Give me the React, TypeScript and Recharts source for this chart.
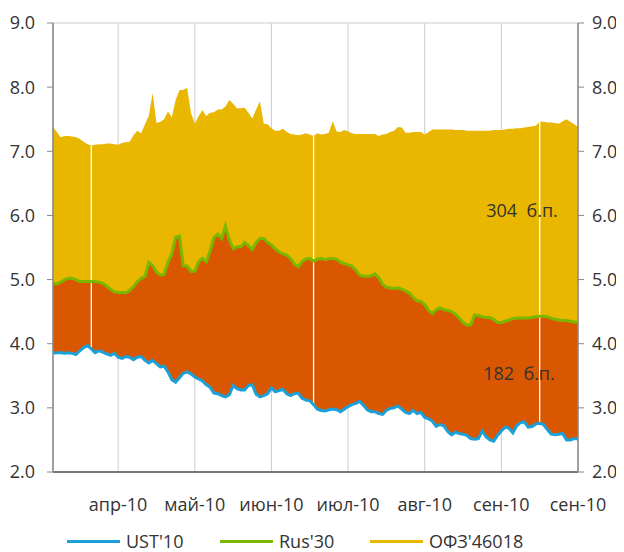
import React from "react";
import {
  ComposedChart,
  Area,
  Line,
  XAxis,
  YAxis,
  CartesianGrid,
  Legend,
  ReferenceLine,
  ReferenceDot,
} from "recharts";

// UST'10 yield, %
const ust = [
  3.85, 3.86, 3.86, 3.85, 3.86, 3.85, 3.83, 3.89, 3.94, 3.97,
  3.92, 3.86, 3.89, 3.87, 3.84, 3.82, 3.85, 3.79, 3.77, 3.80,
  3.79, 3.75, 3.79, 3.80, 3.74, 3.70, 3.74, 3.69, 3.64, 3.65,
  3.56, 3.44, 3.40, 3.47, 3.54, 3.56, 3.53, 3.48, 3.45, 3.42,
  3.36, 3.32, 3.23, 3.22, 3.19, 3.17, 3.20, 3.35, 3.30, 3.28,
  3.28, 3.35, 3.36, 3.21, 3.17, 3.19, 3.22, 3.31, 3.25, 3.27,
  3.29, 3.22, 3.19, 3.22, 3.23, 3.15, 3.12, 3.11, 3.05, 2.98,
  2.96, 2.95, 2.97, 2.98, 2.97, 2.94, 2.98, 3.02, 3.05, 3.07,
  3.10, 3.04, 2.97, 2.94, 2.94, 2.91, 2.90, 2.96, 2.99, 3.00,
  3.03, 2.98, 2.93, 2.91, 2.96, 2.91, 2.93, 2.85, 2.83, 2.79,
  2.71, 2.74, 2.72, 2.63, 2.58, 2.62, 2.60, 2.59, 2.57, 2.52,
  2.51, 2.52, 2.64, 2.55, 2.50, 2.48, 2.57, 2.64, 2.70, 2.68,
  2.61, 2.72, 2.77, 2.78, 2.70, 2.71, 2.75, 2.76, 2.74, 2.66,
  2.59, 2.58, 2.59, 2.60, 2.50, 2.50, 2.52, 2.52,
];

// Rus'30 yield, %
const rus = [
  4.94, 4.93, 4.96, 5.00, 5.02, 5.02, 5.00, 4.97, 4.97, 4.97,
  4.97, 4.97, 4.96, 4.94, 4.90, 4.85, 4.81, 4.80, 4.80, 4.79,
  4.83, 4.89, 4.97, 5.02, 5.05, 5.27, 5.22, 5.12, 5.07, 5.08,
  5.27, 5.40, 5.66, 5.68, 5.21, 5.21, 5.13, 5.13, 5.28, 5.33,
  5.28, 5.45, 5.66, 5.71, 5.64, 5.84, 5.62, 5.48, 5.51, 5.51,
  5.58, 5.53, 5.47, 5.58, 5.64, 5.64, 5.58, 5.54, 5.48, 5.43,
  5.40, 5.38, 5.33, 5.24, 5.20, 5.28, 5.32, 5.33, 5.29, 5.32,
  5.33, 5.31, 5.33, 5.33, 5.32, 5.27, 5.25, 5.23, 5.21, 5.15,
  5.07, 5.05, 5.05, 5.06, 5.09, 5.03, 4.93, 4.88, 4.87, 4.86,
  4.87, 4.85, 4.82, 4.79, 4.72, 4.67, 4.66, 4.61, 4.52, 4.47,
  4.53, 4.56, 4.53, 4.52, 4.50, 4.46, 4.40, 4.33, 4.29, 4.29,
  4.45, 4.44, 4.42, 4.41, 4.41, 4.38, 4.33, 4.33, 4.35, 4.37,
  4.39, 4.40, 4.40, 4.40, 4.40, 4.41, 4.42, 4.43, 4.43, 4.42,
  4.40, 4.38, 4.37, 4.36, 4.36, 4.35, 4.34, 4.33,
];

// ОФЗ'46018 yield, %
const ofz = [
  7.38, 7.30, 7.22, 7.24, 7.24, 7.23, 7.22, 7.19, 7.15, 7.11,
  7.09, 7.10, 7.11, 7.11, 7.12, 7.12, 7.11, 7.10, 7.13, 7.14,
  7.15, 7.25, 7.32, 7.28, 7.42, 7.55, 7.91, 7.44, 7.46, 7.50,
  7.62, 7.53, 7.80, 7.95, 7.96, 7.99, 7.60, 7.43, 7.55, 7.64,
  7.55, 7.60, 7.61, 7.65, 7.65, 7.70, 7.80, 7.74, 7.67, 7.67,
  7.68, 7.60, 7.51, 7.65, 7.78, 7.43, 7.42, 7.36, 7.32, 7.32,
  7.35, 7.30, 7.27, 7.26, 7.25, 7.26, 7.28, 7.26, 7.24, 7.28,
  7.26, 7.27, 7.29, 7.47, 7.31, 7.30, 7.33, 7.31, 7.28, 7.27,
  7.27, 7.27, 7.27, 7.27, 7.27, 7.24, 7.26, 7.27, 7.30, 7.32,
  7.38, 7.37, 7.29, 7.29, 7.30, 7.30, 7.30, 7.26, 7.30, 7.34,
  7.34, 7.34, 7.34, 7.34, 7.34, 7.33, 7.33, 7.33, 7.32, 7.32,
  7.32, 7.32, 7.32, 7.32, 7.32, 7.33, 7.33, 7.33, 7.34, 7.35,
  7.35, 7.36, 7.36, 7.37, 7.38, 7.39, 7.40, 7.46, 7.46, 7.45,
  7.45, 7.44, 7.43, 7.47, 7.50, 7.46, 7.42, 7.38,
];

const monthTicks = [17, 37, 57, 77, 97, 117, 137];
const monthLabels = ["апр-10", "май-10", "июн-10", "июл-10", "авг-10", "сен-10", "сен-10"];
const yTicks = [2, 3, 4, 5, 6, 7, 8, 9];
const gapIdx = [10, 68, 127];
const spreadNotes = [
  { x: 122.4, y: 6.08, text: "304  б.п." },
  { x: 121.6, y: 3.54, text: "182  б.п." },
];

const BLUE = "#1BA1DA";
const GREEN = "#7AB800";
const YELLOW = "#EAB700";
const ORANGE = "#D95700";
const TEXT = "#333333";
const FONT = "'Open Sans', sans-serif";
const FS = 18;

const legendItems = [
  { name: "UST'10", color: BLUE, width: 153 },
  { name: "Rus'30", color: GREEN, width: 150 },
  { name: "ОФЗ'46018", color: YELLOW, width: 160 },
];

const data = ust.map((u, i) => ({ i, ust: u, rus: rus[i], ofz: ofz[i] }));

const tickFmt = (v: number) => {
  const k = monthTicks.indexOf(v);
  return k >= 0 ? monthLabels[k] : "";
};

const LegendContent = () => (
  <div style={{ display: "flex", fontFamily: FONT, fontSize: FS, color: TEXT, lineHeight: "20px", height: 20 }}>
    {legendItems.map((it) => (
      <div key={it.name} style={{ width: it.width, display: "flex", alignItems: "center", whiteSpace: "nowrap" }}>
        <span style={{ display: "inline-block", width: 53, height: 3, background: it.color, marginRight: 6 }} />
        <span>{it.name}</span>
      </div>
    ))}
  </div>
);

export default function App() {
  return (
    <div style={{ fontFamily: FONT }}>
      <ComposedChart
        width={616}
        height={544}
        data={data}
        margin={{ top: 15, right: 0, bottom: 50, left: 0 }}
      >
        <CartesianGrid stroke="#cccccc" strokeWidth={1} />
        <XAxis
          dataKey="i"
          type="number"
          domain={[0, 137]}
          ticks={monthTicks}
          tickFormatter={tickFmt}
          interval={0}
          height={30}
          tickLine={false}
          tickMargin={20}
          axisLine={{ stroke: "#555555", strokeWidth: 1.5 }}
          tick={{ fill: TEXT, fontSize: FS, fontFamily: FONT }}
        />
        <YAxis
          yAxisId="left"
          domain={[2, 9]}
          ticks={yTicks}
          width={45}
          tickFormatter={(v: number) => v.toFixed(1)}
          tickSize={6}
          tickMargin={12}
          axisLine={{ stroke: "#888888", strokeWidth: 1.5 }}
          tickLine={{ stroke: "#888888" }}
          tick={{ fill: TEXT, fontSize: FS, fontFamily: FONT }}
          allowDataOverflow
        />
        <YAxis
          yAxisId="right"
          orientation="right"
          domain={[2, 9]}
          ticks={yTicks}
          width={46}
          tickFormatter={(v: number) => v.toFixed(1)}
          tickSize={6}
          tickMargin={8}
          axisLine={{ stroke: "#888888", strokeWidth: 1.5 }}
          tickLine={{ stroke: "#888888" }}
          tick={{ fill: TEXT, fontSize: FS, fontFamily: FONT }}
          allowDataOverflow
        />
        <Area
          yAxisId="left"
          type="linear"
          dataKey={(d: any) => [d.rus, d.ofz]}
          name="ofzArea"
          fill={YELLOW}
          fillOpacity={1}
          stroke="none"
          isAnimationActive={false}
          legendType="none"
        />
        <Area
          yAxisId="left"
          type="linear"
          dataKey={(d: any) => [d.ust, d.rus]}
          name="rusArea"
          fill={ORANGE}
          fillOpacity={1}
          stroke="none"
          isAnimationActive={false}
          legendType="none"
        />
        {gapIdx.map((g) => (
          <ReferenceLine
            key={g}
            yAxisId="left"
            segment={[
              { x: g, y: ust[g] },
              { x: g, y: ofz[g] },
            ]}
            stroke="#ffffff"
            strokeWidth={1.3}
          />
        ))}
        <Line
          yAxisId="left"
          type="linear"
          dataKey="ust"
          stroke={BLUE}
          strokeWidth={3}
          dot={false}
          isAnimationActive={false}
        />
        <Line
          yAxisId="left"
          type="linear"
          dataKey="rus"
          stroke={GREEN}
          strokeWidth={3}
          dot={false}
          isAnimationActive={false}
        />
        {spreadNotes.map((n) => (
          <ReferenceDot
            key={n.text}
            yAxisId="left"
            x={n.x}
            y={n.y}
            r={0}
            shape={(p: any) => (
              <text
                x={p.cx}
                y={p.cy}
                textAnchor="middle"
                dominantBaseline="central"
                fill={TEXT}
                fontSize={FS}
                fontFamily={FONT}
                style={{ whiteSpace: "pre" }}
              >
                {n.text}
              </text>
            )}
          />
        ))}
        <Legend
          layout="horizontal"
          verticalAlign="middle"
          align="center"
          wrapperStyle={{ top: 523, left: 59, width: 520, height: 20 }}
          content={() => <LegendContent />}
        />
      </ComposedChart>
    </div>
  );
}
